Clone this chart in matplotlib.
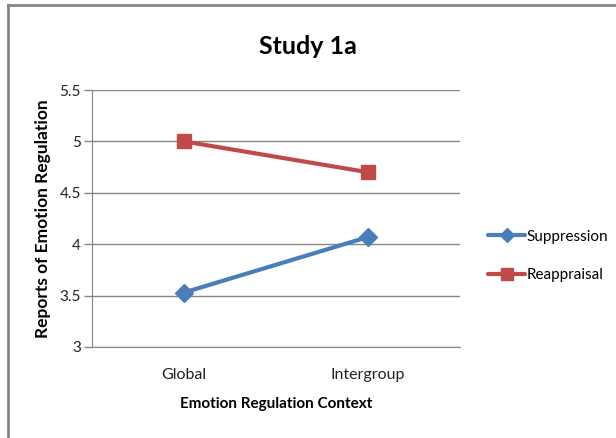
import matplotlib.pyplot as plt
from matplotlib.lines import Line2D

contexts = ["Global", "Intergroup"]
suppression = [3.53, 4.07]
reappraisal = [5.0, 4.70]
y_ticks = [3, 3.5, 4, 4.5, 5, 5.5]
y_tick_labels = ["3", "3.5", "4", "4.5", "5", "5.5"]

plt.rcParams['font.family'] = ['Lato', 'DejaVu Sans']

fig = plt.figure(figsize=(6.16, 4.38), dpi=100)
ax = fig.add_axes([92 / 616, 1 - 347 / 438, 368 / 616, 257 / 438])

grid_color = "#868686"
x = list(range(len(contexts)))

ax.plot(x, suppression, color="#4A7EBB", lw=3, marker="D", ms=9,
        label="Suppression", solid_capstyle="round")
ax.plot(x, reappraisal, color="#BE4B48", lw=3, marker="s", ms=10,
        label="Reappraisal", solid_capstyle="round")

ax.set_xlim(-0.5, 1.5)
ax.set_ylim(3, 5.5)
ax.set_yticks(y_ticks)
ax.set_yticklabels(y_tick_labels, fontsize=11, color="#222222")
ax.set_xticks(x)
ax.set_xticklabels(contexts, fontsize=11.5, color="#222222")
ax.tick_params(axis="y", length=6, color=grid_color, width=1, pad=2)
ax.tick_params(axis="x", length=0, pad=15)

ax.yaxis.grid(True, color=grid_color, lw=1)
ax.set_axisbelow(True)
for side in ["top", "right"]:
    ax.spines[side].set_visible(False)
ax.spines["left"].set_color(grid_color)
ax.spines["bottom"].set_color(grid_color)

ax.set_ylabel("Reports of Emotion Regulation", fontsize=12.5, fontweight="bold",
              labelpad=6)
ax.set_xlabel("Emotion Regulation Context", fontsize=11, fontweight="bold",
              labelpad=11)

fig.text(308 / 616, 1 - 47 / 438, "Study 1a", ha="center", va="center",
         fontsize=18, fontweight="bold")

ax.legend(loc="center left", bbox_to_anchor=(1.04, 0.355), frameon=False,
          fontsize=11, handlelength=2.4, handletextpad=0.1, labelspacing=1.6,
          markerscale=0.8)

# outer chart frame (left and top edges)
fig.add_artist(Line2D([7.5 / 616, 7.5 / 616], [0, 1 - 5 / 438],
                      color=grid_color, lw=2, transform=fig.transFigure))
fig.add_artist(Line2D([7.5 / 616, 1], [1 - 5 / 438, 1 - 5 / 438],
                      color=grid_color, lw=2, transform=fig.transFigure))

fig.savefig("out.png", dpi=100)
